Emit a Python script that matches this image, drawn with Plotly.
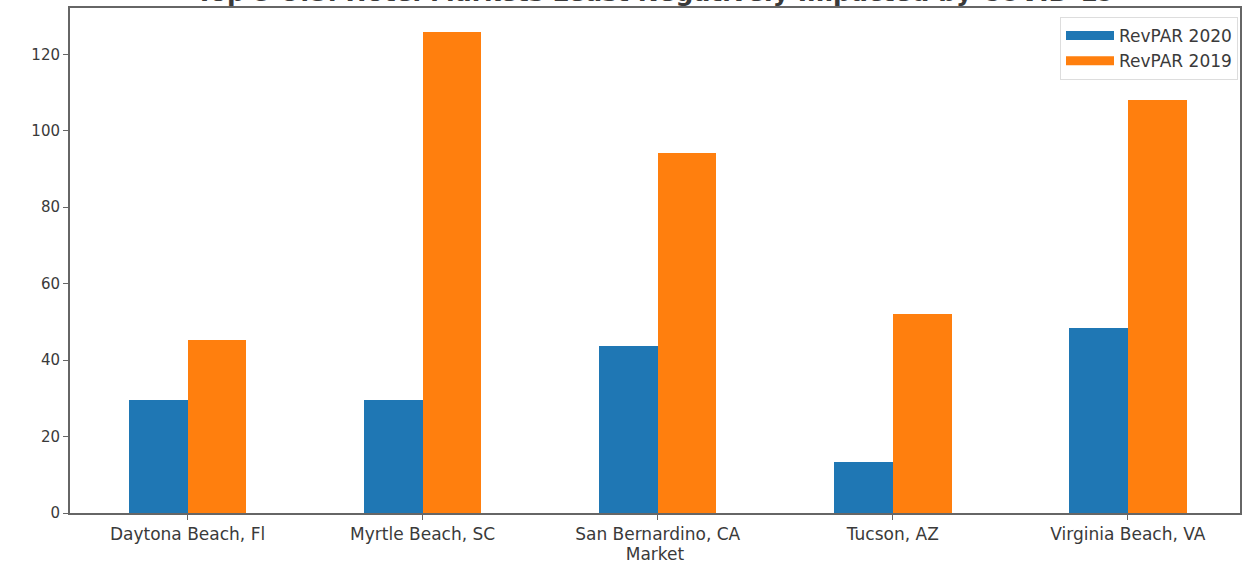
import plotly.graph_objects as go

markets = ["Daytona Beach, Fl", "Myrtle Beach, SC", "San Bernardino, CA", "Tucson, AZ", "Virginia Beach, VA"]
revpar_2020 = [29.5, 29.5, 43.6, 13.3, 48.5]
revpar_2019 = [45.2, 125.8, 94.3, 52.0, 108.0]
series_names = ["RevPAR 2020", "RevPAR 2019"]
colors = ["#1f77b4", "#ff7f0e"]
title_text = "Top 5 U.S. Hotel Markets Least Negatively Impacted by COVID-19"

xs = list(range(len(markets)))
font_family = "DejaVu Sans"
text_color = "#3a3a3a"

fig = go.Figure()
for vals, name, col, off in zip([revpar_2020, revpar_2019], series_names, colors, [-0.25, 0.0]):
    fig.add_trace(go.Bar(x=xs, y=vals, name=name, marker_color=col,
                         marker_line_width=0, offset=off, width=0.25, showlegend=False))
# legend entries drawn as wide swatches (matplotlib style)
for name, col in zip(series_names, colors):
    fig.add_trace(go.Scatter(x=[None], y=[None], mode="lines", name=name,
                             line=dict(color=col, width=9)))

fig.update_layout(
    width=1242, height=564,
    margin=dict(l=70, r=0, t=8, b=51),
    paper_bgcolor="white", plot_bgcolor="white",
    font=dict(family=font_family, size=15, color=text_color),
    barmode="overlay",
    showlegend=True,
    legend=dict(x=1 - 2/1172, xanchor="right", y=1 - 9/505, yanchor="top",
                bgcolor="white", bordercolor="#dddddd", borderwidth=1,
                font=dict(family=font_family, size=17, color=text_color),
                traceorder="normal", tracegroupgap=0, itemwidth=48),
    bargap=0,
    annotations=[dict(text="<b>" + title_text + "</b>", x=0.5, xref="paper", xanchor="center",
                      y=1.0, yref="paper", yanchor="bottom", yshift=0, showarrow=False,
                      borderpad=0,
                      font=dict(family=font_family, size=25, color=text_color))],
)
fig.update_xaxes(
    range=[-0.5, 4.477], tickvals=xs, ticktext=markets,
    showline=True, linecolor="#666666", linewidth=2, mirror=True,
    ticks="outside", ticklen=5, tickcolor="#666666",
    showgrid=False, zeroline=False,
    tickfont=dict(size=17, color=text_color),
    title=dict(text="Market", font=dict(size=17, color=text_color), standoff=2),
)
fig.update_yaxes(
    range=[0, 132.1], tickvals=[0, 20, 40, 60, 80, 100, 120],
    showline=True, linecolor="#666666", linewidth=2, mirror=True,
    ticks="outside", ticklen=5, tickcolor="#666666",
    showgrid=False, zeroline=False,
    tickfont=dict(size=15, color=text_color),
)

fig.write_html("out.html", config={"displayModeBar": False},
               post_script="document.body.style.margin='0';document.body.style.padding='0';document.body.style.overflow='hidden';")
